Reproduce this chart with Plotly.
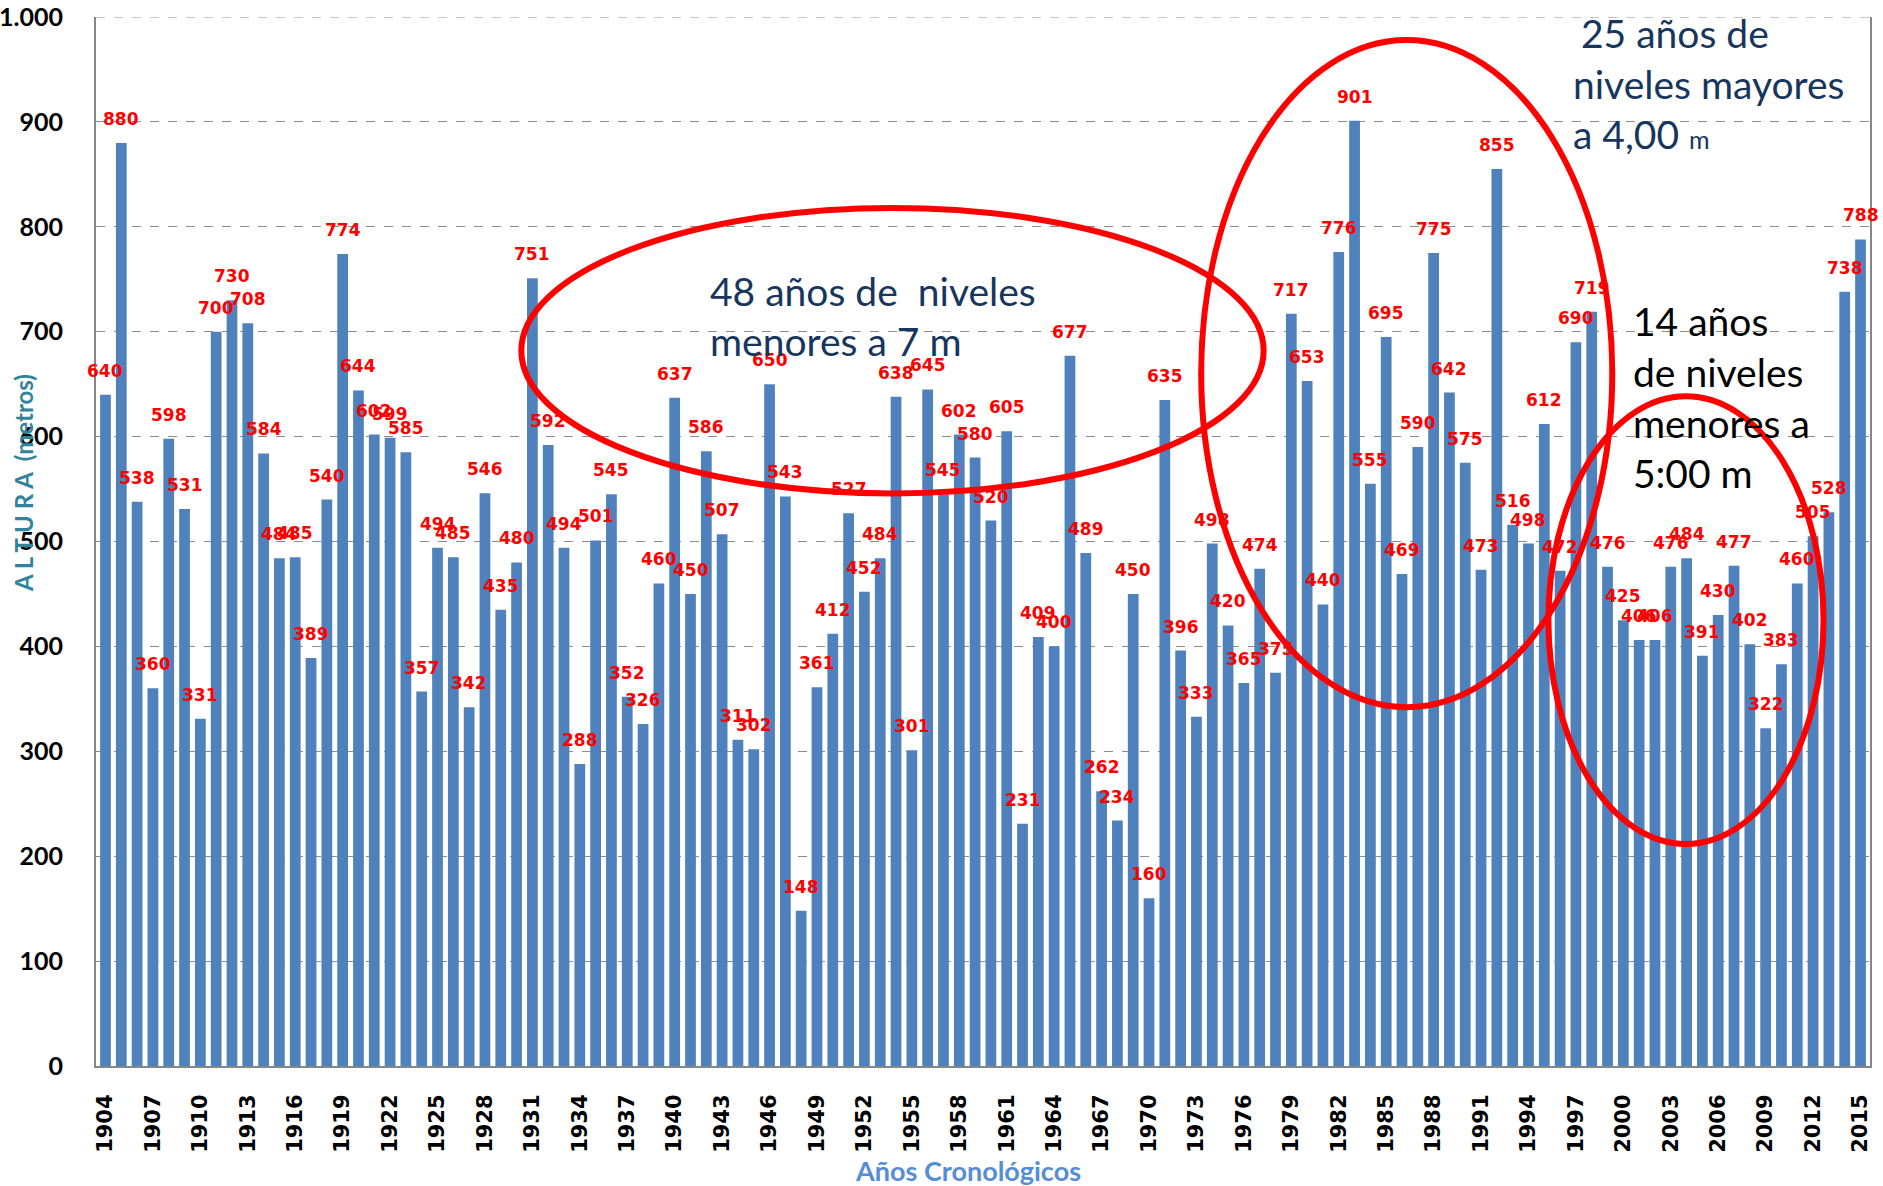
import plotly.graph_objects as go

years = list(range(1904, 2016))
alturas = [
    640, 880, 538, 360, 598, 531, 331, 700, 730, 708, 584, 484,
    485, 389, 540, 774, 644, 602, 599, 585, 357, 494, 485, 342,
    546, 435, 480, 751, 592, 494, 288, 501, 545, 352, 326, 460,
    637, 450, 586, 507, 311, 302, 650, 543, 148, 361, 412, 527,
    452, 484, 638, 301, 645, 545, 602, 580, 520, 605, 231, 409,
    400, 677, 489, 262, 234, 450, 160, 635, 396, 333, 498, 420,
    365, 474, 375, 717, 653, 440, 776, 901, 555, 695, 469, 590,
    775, 642, 575, 473, 855, 516, 498, 612, 472, 690, 719, 476,
    425, 406, 406, 476, 484, 391, 430, 477, 402, 322, 383, 460,
    505, 528, 738, 788,
]
tick_years = years[::3]
tick_text = [str(y) for y in tick_years]
y_ticks = list(range(0, 1001, 100))

BAR = "#4F81BD"
GRID = "#8C8C8C"

fig = go.Figure()
fig.add_trace(go.Bar(
    x=years, y=alturas, marker=dict(color=BAR, line=dict(width=0)),
    hoverinfo="x+y",
))

annotations = []
for yr, v in zip(years, alturas):
    annotations.append(dict(
        x=yr, y=v, xref="x", yref="y", text=str(v), showarrow=False,
        yanchor="middle", xanchor="center", yshift=24,
        font=dict(family="DejaVu Sans", size=17, color="#FF0000", weight="bold"),
    ))

NAVY = "#17365D"
TXT_FONT = "Lato"
text_lines = [
    ("48 años de  niveles", 1942.1, 739, NAVY),
    ("menores a 7 m", 1942.1, 691, NAVY),
    ("25 años de", 1997.2, 985, NAVY),
    ("niveles mayores", 1996.7, 936, NAVY),
    ("a 4,00 <span style='font-size:25px'>m</span>", 1996.7, 888, NAVY),
    ("14 años", 2000.5, 710, "#000000"),
    ("de niveles", 2000.5, 662, "#000000"),
    ("menores a", 2000.5, 613, "#000000"),
    ("5:00 m", 2000.5, 565, "#000000"),
]
for txt, xx, yy, col in text_lines:
    annotations.append(dict(
        x=xx, y=yy, xref="x", yref="y", text=txt, showarrow=False,
        xanchor="left", yanchor="middle", align="left",
        font=dict(family=TXT_FONT, size=39, color=col),
    ))

annotations.append(dict(
    x=-0.041, y=0.556, xref="paper", yref="paper",
    text="A L T U R A  (metros)", textangle=-90, showarrow=False,
    xanchor="center", yanchor="middle",
    font=dict(family="Lato", size=24, color="#31849B", weight="bold"),
))
annotations.append(dict(
    x=0.4916, y=-0.1, xref="paper", yref="paper",
    text="Años Cronológicos", showarrow=False,
    xanchor="center", yanchor="middle",
    font=dict(family="Lato", size=27, color="#558ED5", weight="bold"),
))

shapes = [
    dict(type="line", xref="paper", yref="y", x0=0, x1=1, y0=y_ticks[-1], y1=y_ticks[-1],
         line=dict(color=GRID, width=1, dash="dash"), layer="below"),
    dict(type="circle", xref="x", yref="y", x0=1930.3, x1=1977.25, y0=545.8, y1=818,
         line=dict(color="#FF0000", width=6)),
    dict(type="circle", xref="x", yref="y", x0=1973.3, x1=1999.3, y0=342, y1=978,
         line=dict(color="#FF0000", width=6)),
    dict(type="circle", xref="x", yref="y", x0=1995.26, x1=2012.66, y0=211.7, y1=638.4,
         line=dict(color="#FF0000", width=6)),
]

fig.update_layout(
    width=1883, height=1186,
    autosize=False,
    margin=dict(l=96, r=13, t=17, b=120, autoexpand=False),
    paper_bgcolor="white", plot_bgcolor="white",
    separators=",.",
    bargap=0.32,
    showlegend=False,
    annotations=annotations,
    shapes=shapes,
    xaxis=dict(
        range=[1903.4, 2015.6],
        tickmode="array", tickvals=tick_years, ticktext=tick_text,
        tickangle=-90,
        tickfont=dict(family="DejaVu Sans", size=21, color="#000000", weight="bold"),
        showgrid=False, zeroline=False,
        showline=True, linecolor="#868686", linewidth=2,
        ticks="", ticklabelstandoff=18, automargin=False,
    ),
    yaxis=dict(
        range=[0, 1000],
        tickmode="array", tickvals=y_ticks,
        tickformat=",d",
        tickfont=dict(family="Lato", size=25, color="#000000", weight="bold"),
        showgrid=True, gridcolor=GRID, griddash="dash", gridwidth=1,
        zeroline=False,
        showline=True, linecolor="#868686", linewidth=2, mirror=True,
        ticks="", ticklabelstandoff=26, automargin=False,
    ),
)

fig.write_html(
    "out.html",
    config={"displayModeBar": False},
    post_script="document.body.style.margin='0';document.body.style.overflow='hidden';",
)
